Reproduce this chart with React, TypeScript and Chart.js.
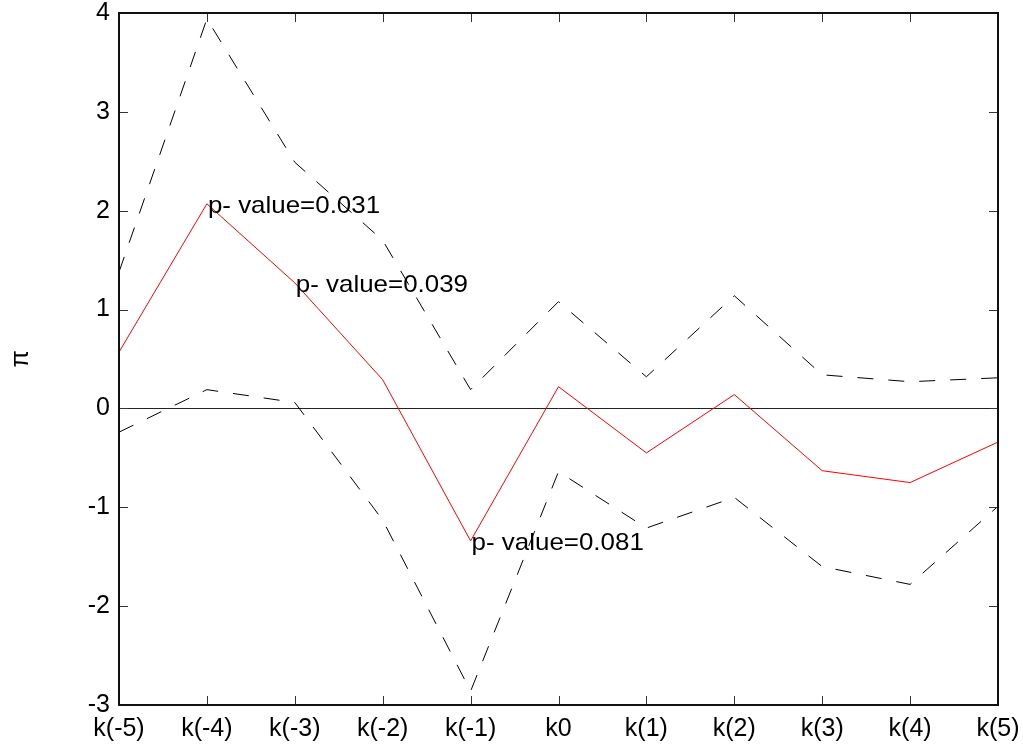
import React, { useEffect, useRef } from "react";
import { Chart, registerables } from "chart.js";

Chart.register(...registerables);

const categories = ["k(-5)", "k(-4)", "k(-3)", "k(-2)", "k(-1)", "k0", "k(1)", "k(2)", "k(3)", "k(4)", "k(5)"];
const estimate = [0.57, 2.07, 1.27, 0.29, -1.34, 0.22, -0.45, 0.14, -0.63, -0.75, -0.34];
const upperBand = [1.38, 3.94, 2.49, 1.7, 0.19, 1.08, 0.32, 1.14, 0.34, 0.27, 0.31];
const lowerBand = [-0.24, 0.19, 0.06, -1.13, -2.86, -0.64, -1.21, -0.9, -1.6, -1.78, -0.99];
const yTicks = [-3, -2, -1, 0, 1, 2, 3, 4];
const annotationIndex = [1, 2, 4];
const annotationText = ["p- value=0.031", "p- value=0.039", "p- value=0.081"];

const FONT = "'Liberation Sans', Arial, sans-serif";

const framePlugin = {
  id: "frame",
  beforeDatasetsDraw(chart: any) {
    const { ctx, chartArea } = chart;
    const { left, right } = chartArea;
    const y = chart.scales.y;
    ctx.save();
    ctx.strokeStyle = "#222";
    ctx.lineWidth = 1;
    const y0 = Math.round(y.getPixelForValue(0)) + 0.5;
    ctx.beginPath();
    ctx.moveTo(left, y0);
    ctx.lineTo(right, y0);
    ctx.stroke();
    ctx.restore();
  },
  afterDraw(chart: any) {
    const { ctx, chartArea } = chart;
    const { left, right, top, bottom } = chartArea;
    const x = chart.scales.x;
    const y = chart.scales.y;
    const tl = 9;
    ctx.save();
    ctx.strokeStyle = "#333";
    ctx.lineWidth = 1;
    ctx.beginPath();
    categories.forEach((_, i) => {
      const px = Math.round(x.getPixelForValue(i)) + 0.5;
      ctx.moveTo(px, bottom);
      ctx.lineTo(px, bottom - tl);
      ctx.moveTo(px, top);
      ctx.lineTo(px, top + tl);
    });
    yTicks.forEach((v) => {
      const py = Math.round(y.getPixelForValue(v)) + 0.5;
      ctx.moveTo(left, py);
      ctx.lineTo(left + tl, py);
      ctx.moveTo(right, py);
      ctx.lineTo(right - tl, py);
    });
    ctx.stroke();
    ctx.strokeStyle = "#111";
    ctx.lineWidth = 2;
    ctx.strokeRect(left, top, right - left, bottom - top);
    // annotations
    ctx.fillStyle = "#000";
    ctx.font = `24px ${FONT}`;
    ctx.textAlign = "left";
    ctx.textBaseline = "alphabetic";
    annotationIndex.forEach((idx, k) => {
      const px = x.getPixelForValue(idx);
      const py = y.getPixelForValue(estimate[idx]);
      ctx.save();
      ctx.translate(px + 1, py + 9.5);
      ctx.scale(1.08, 1);
      ctx.fillText(annotationText[k], 0, 0);
      ctx.restore();
    });
    ctx.restore();
  },
};

export default function App() {
  const ref = useRef<HTMLCanvasElement | null>(null);
  useEffect(() => {
    document.body.style.margin = "0";
    const canvas = ref.current!;
    const chart = new Chart(canvas, {
      type: "line",
      data: {
        labels: categories,
        datasets: [
          {
            data: estimate,
            borderColor: "#ff0000",
            borderWidth: 1,
            pointRadius: 0,
            tension: 0,
          },
          {
            data: upperBand,
            borderColor: "#000",
            borderWidth: 1,
            borderDash: [16, 15],
            pointRadius: 0,
            tension: 0,
          },
          {
            data: lowerBand,
            borderColor: "#000",
            borderWidth: 1,
            borderDash: [16, 15],
            pointRadius: 0,
            tension: 0,
          },
        ],
      },
      options: {
        animation: false,
        responsive: false,
        devicePixelRatio: 1,
        layout: { padding: { top: 13, right: 25, left: 0, bottom: 0 } },
        plugins: { legend: { display: false }, tooltip: { enabled: false } },
        scales: {
          x: {
            type: "category",
            offset: false,
            grid: { display: false, drawTicks: false },
            border: { display: false },
            ticks: {
              color: "#000",
              font: { family: FONT, size: 25 },
              padding: 9,
              maxRotation: 0,
              autoSkip: false,
            },
            afterFit(scale: any) {
              scale.height = 42;
              scale.paddingLeft = 0;
              scale.paddingRight = 0;
            },
          },
          y: {
            min: -3,
            max: 4,
            grid: { display: false, drawTicks: false },
            border: { display: false },
            ticks: {
              stepSize: 1,
              color: "#000",
              font: { family: FONT, size: 25 },
              padding: 9,
            },
            title: {
              display: true,
              text: "π",
              color: "#000",
              font: { family: FONT, size: 25 },
              padding: { top: 6, bottom: 0 },
            },
            afterFit(scale: any) {
              scale.width = 119;
              scale.paddingTop = 0;
              scale.paddingBottom = 0;
            },
          },
        },
      },
      plugins: [framePlugin],
    });
    return () => chart.destroy();
  }, []);
  return (
    <div style={{ width: 1023, height: 747 }}>
      <canvas ref={ref} width={1023} height={747} style={{ display: "block" }} />
    </div>
  );
}
